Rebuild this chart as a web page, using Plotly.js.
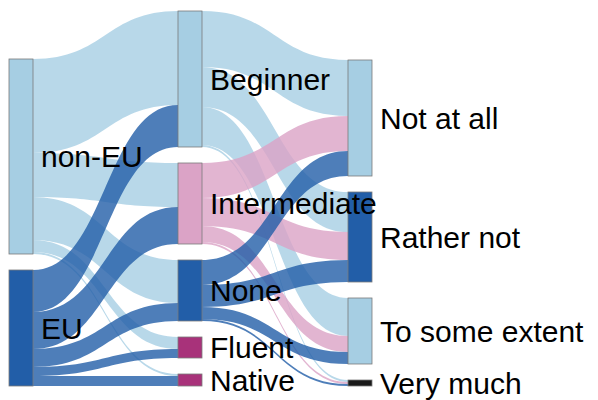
<!DOCTYPE html>
<html>
<head>
<meta charset="utf-8">
<script src="https://cdn.plot.ly/plotly-3.0.1.min.js"></script>
<style>
  body { margin: 0; background: #fff; }
  #sankey { width: 598px; height: 400px; }
</style>
</head>
<body>
<div id="sankey"></div>
<script>
// node labels, in order: origin, language level, answer
var nodeLabels = ["non-EU", "EU",
  "Beginner", "Intermediate", "None", "Fluent", "Native",
  "Not at all", "Rather not", "To some extent", "Very much"];

var lightBlue = "#a6cee3";
var darkBlue = "#225ea8";
var pink = "#dba3c6";
var magenta = "#a8327a";
var black = "#1a1a1a";

var nodeColors = [lightBlue, darkBlue,
  lightBlue, pink, darkBlue, magenta, magenta,
  lightBlue, darkBlue, lightBlue, black];

// origin -> language level
var levels = ["Beginner", "Intermediate", "None", "Fluent", "Native"];
var nonEU = [94, 44, 43, 12, 2];
var eu = [42, 37, 18, 9, 10];

// language level -> answer (Fluent / Native did not answer)
var answers = ["Not at all", "Rather not", "To some extent", "Very much"];
var beginner = [56, 40, 38, 2];
var intermediate = [35, 28, 16, 2];
var none = [25, 22, 12, 2];

function rgba(hex, a) {
  var n = parseInt(hex.slice(1), 16);
  return "rgba(" + (n >> 16 & 255) + "," + (n >> 8 & 255) + "," + (n & 255) + "," + a + ")";
}

var src = [], tgt = [], val = [], col = [];
function addLinks(from, targets, values) {
  var s = nodeLabels.indexOf(from);
  targets.forEach(function(t, i) {
    if (!values[i]) return;
    src.push(s);
    tgt.push(nodeLabels.indexOf(t));
    val.push(values[i]);
    col.push(rgba(nodeColors[s], 0.8));
  });
}
addLinks("non-EU", levels, nonEU);
addLinks("EU", levels, eu);
addLinks("Beginner", answers, beginner);
addLinks("Intermediate", answers, intermediate);
addLinks("None", answers, none);

var W = 598, H = 400, mL = 9, mT = 11, mB = 14;
var plotW = W - mL, plotH = H - mT - mB;
var pad = 16, thick = 24;

// node sizes = max(in, out), then stack each column from the bottom
var inSum = nodeLabels.map(function() { return 0; });
var outSum = inSum.slice();
src.forEach(function(s, i) { outSum[s] += val[i]; inSum[tgt[i]] += val[i]; });
var size = inSum.map(function(v, i) { return Math.max(v, outSum[i]); });

var columns = [["non-EU", "EU"], levels, answers].map(function(c) {
  return c.map(function(l) { return nodeLabels.indexOf(l); });
});
var colX = [9, 178, 348]; // left edge of each column, px
var ky = Math.min.apply(null, columns.map(function(c) {
  var tot = c.reduce(function(a, i) { return a + size[i]; }, 0);
  return (plotH - (c.length - 1) * pad) / tot;
}));
var nodeX = [], nodeY = [];
var labels = [];
columns.forEach(function(c, ci) {
  var y = plotH;
  for (var k = c.length - 1; k >= 0; k--) {
    var h = size[c[k]] * ky;
    nodeY[c[k]] = (y - h / 2) / plotH;
    nodeX[c[k]] = (colX[ci] - mL + thick / 2) / plotW;
    // every label right of its node (plotly would flip the last column)
    labels.push({
      text: nodeLabels[c[k]],
      xref: "paper", yref: "paper",
      x: (colX[ci] - mL + thick + 6) / plotW,
      y: 1 - nodeY[c[k]],
      xanchor: "left", yanchor: "middle",
      showarrow: false
    });
    y -= h + pad;
  }
});

var trace = {
  type: "sankey",
  orientation: "h",
  arrangement: "fixed",
  domain: {x: [0, 1], y: [0, 1]},
  node: {
    label: nodeLabels.map(function() { return ""; }),
    color: nodeColors,
    x: nodeX,
    y: nodeY,
    pad: pad,
    thickness: thick,
    align: "left",
    line: {color: "#7a7a7a", width: 0.8}
  },
  link: {source: src, target: tgt, value: val, color: col},
  hoverinfo: "none"
};

var layout = {
  width: W,
  height: H,
  margin: {l: mL, r: 0, t: mT, b: mB},
  paper_bgcolor: "#fff",
  font: {family: "Liberation Sans, Arial, sans-serif", size: 30, color: "#000"},
  annotations: labels,
  showlegend: false
};

Plotly.newPlot("sankey", [trace], layout, {displayModeBar: false, staticPlot: true});
</script>
</body>
</html>
